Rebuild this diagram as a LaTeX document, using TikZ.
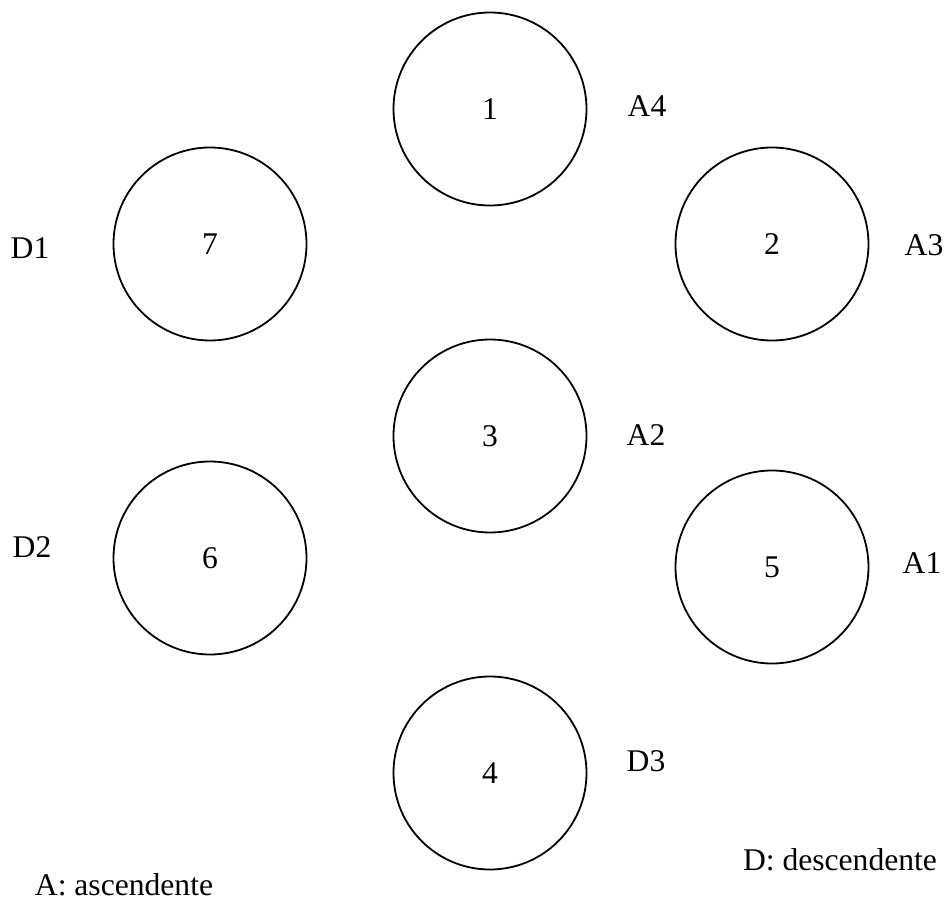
\documentclass[tikz,border=0pt]{standalone}
\usepackage{fontspec}
\setmainfont{Liberation Serif}

\begin{document}
\begin{tikzpicture}[
  x = 1pt, y = -1pt,
  every node/.style = {font = \fontsize{31.6}{38}\selectfont, inner sep = 0pt},
  ring/.style = {circle, draw, line width = 1.8pt, minimum size = 193pt},
  tag/.style = {anchor = center},
  ]
  \useasboundingbox (0,0) rectangle (946,901);
  % circles
  \node[ring] (n1) at (490,109) {1};
  \node[ring] (n2) at (772,244) {2};
  \node[ring] (n3) at (490,436) {3};
  \node[ring] (n4) at (490,773) {4};
  \node[ring] (n5) at (772,567) {5};
  \node[ring] (n6) at (210,558) {6};
  \node[ring] (n7) at (210,244) {7};
  % labels
  \node[tag] (a4) at (647,106) {A4};
  \node[tag] (a3) at (924,245) {A3};
  \node[tag] (a2) at (646,435) {A2};
  \node[tag] (a1) at (922,563) {A1};
  \node[tag] (d1) at (30,248) {D1};
  \node[tag] (d2) at (32,547) {D2};
  \node[tag] (d3) at (646,761) {D3};
  % legend
  \node[tag] (keyd) at (840,860) {D: descendente};
  \node[tag] (keya) at (124,885) {A: ascendente};
\end{tikzpicture}
\end{document}
